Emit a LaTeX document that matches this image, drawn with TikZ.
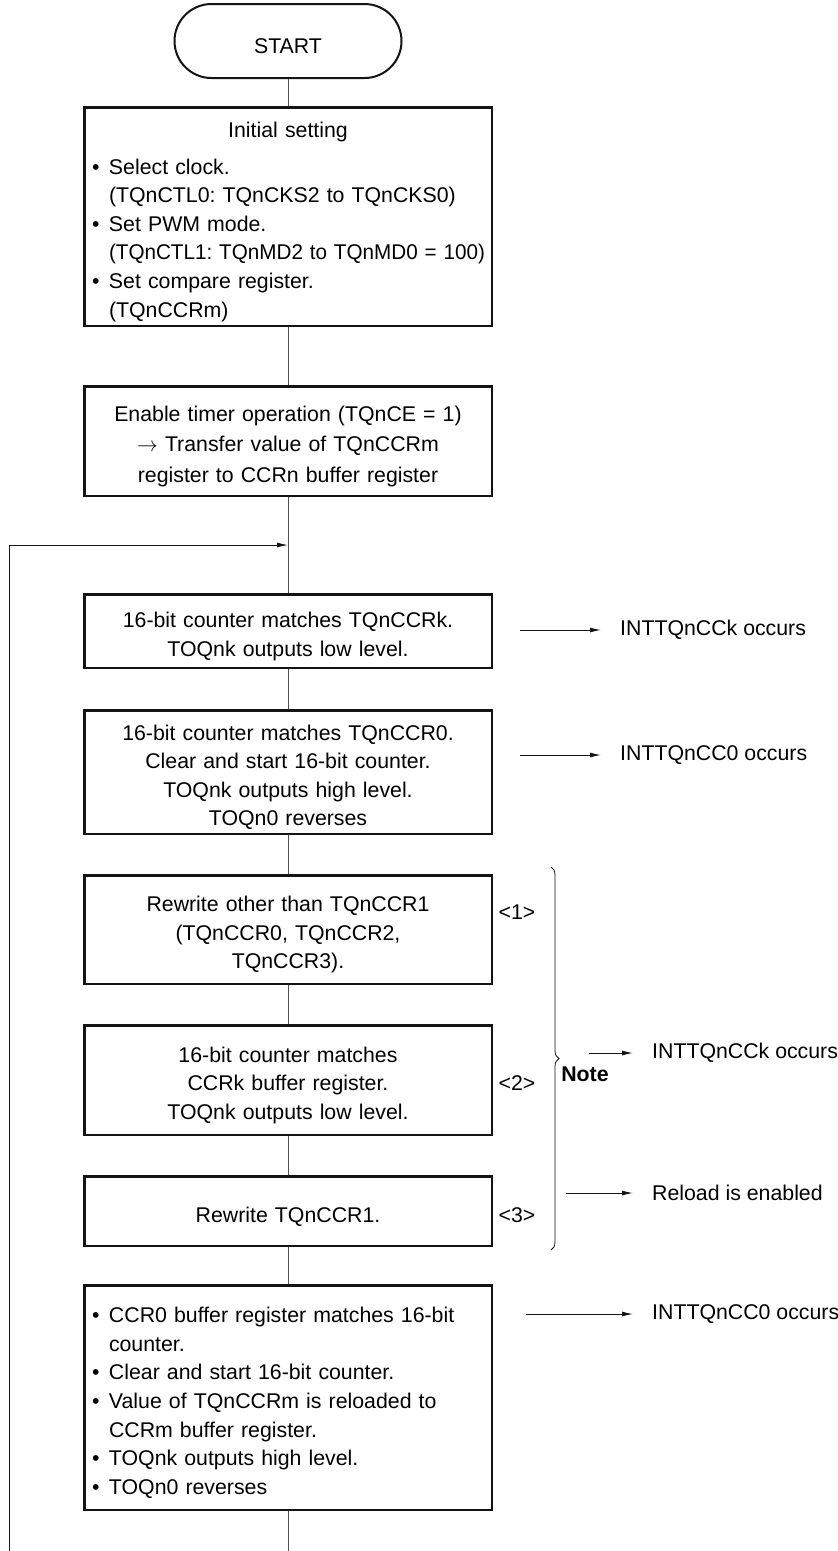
\documentclass[tikz,border=0pt]{standalone}
\usepackage{fontspec}
\setmainfont{Liberation Sans}
\usetikzlibrary{arrows.meta,positioning,calc,decorations.pathreplacing}
\definecolor{ink}{RGB}{20,20,20}
\definecolor{wire}{RGB}{85,85,85}
\newcommand{\fsz}{\fontsize{21.3pt}{28.6pt}\selectfont\frenchspacing}
\newcommand{\bul}{\hspace*{4pt}\makebox[17pt][l]{\textbullet}}
\newcommand{\ind}{\hspace*{21pt}}
\newcommand{\topgap}{\rule{0pt}{26pt}}
\tikzset{
  term/.style={draw=ink,line width=2pt,rounded corners=37pt,minimum width=227pt,minimum height=74pt,font=\fsz,execute at begin node=\topgap},
  proc/.style={draw=ink,line width=2.5pt,minimum width=407.5pt,text width=400pt,inner xsep=3pt,inner ysep=1pt,align=center,font=\fsz,execute at begin node=\topgap},
  link/.style={draw=wire,line width=1pt},
  arr/.style={-{Latex[length=11pt,width=5pt]},draw=ink,line width=1pt},
  side/.style={font=\fsz,anchor=west,inner xsep=19pt,inner ysep=0pt},
  tag/.style={font=\fsz,inner sep=0pt},
}

\begin{document}
\begin{tikzpicture}[x=1pt,y=-1pt]
  \useasboundingbox (0,0) rectangle (838,1551);
  % main column
  \node[term] (start) at (288,41) {START};
  \node[proc,minimum height=218.5pt,align=left,below=27pt of start] (init)
    {\makebox[\linewidth][c]{Initial setting}\\[8pt]
     \bul Select clock.\\\ind (TQnCTL0: TQnCKS2 to TQnCKS0)\\
     \bul Set PWM mode.\\\ind \scalebox{0.97}[1]{(TQnCTL1: TQnMD2 to TQnMD0 = 100)}\\
     \bul Set compare register.\\\ind (TQnCCRm)};
  \node[proc,minimum height=109.5pt,below=58pt of init,font=\fontsize{21.3pt}{30.5pt}\selectfont] (enable)
    {Enable timer operation (TQnCE = 1)\\$\rightarrow$ Transfer value of TQnCCRm\\register to CCRn buffer register};
  \node[proc,minimum height=73.5pt,below=96pt of enable] (matchk)
    {16-bit counter matches TQnCCRk.\\TOQnk outputs low level.};
  \node[proc,minimum height=123.5pt,below=40pt of matchk] (matchz)
    {16-bit counter matches TQnCCR0.\\Clear and start 16-bit counter.\\TOQnk outputs high level.\\TOQn0 reverses};
  \node[proc,minimum height=108.5pt,below=39pt of matchz] (rewother)
    {Rewrite other than TQnCCR1\\(TQnCCR0, TQnCCR2,\\TQnCCR3).};
  \node[proc,minimum height=109.5pt,below=39pt of rewother] (bufk)
    {16-bit counter matches\\CCRk buffer register.\\TOQnk outputs low level.};
  \node[proc,minimum height=69.5pt,below=39pt of bufk] (rewone) {Rewrite TQnCCR1.};
  \node[proc,minimum height=224.5pt,align=left,below=37pt of rewone] (reload)
    {\bul CCR0 buffer register matches 16-bit\\\ind counter.\\
     \bul Clear and start 16-bit counter.\\
     \bul Value of TQnCCRm is reloaded to\\\ind CCRm buffer register.\\
     \bul TOQnk outputs high level.\\
     \bul TOQn0 reverses};

  \draw[link] (start) -- (init);
  \draw[link] (init) -- (enable);
  \draw[link] (enable) -- (matchk);
  \draw[link] (matchk) -- (matchz);
  \draw[link] (matchz) -- (rewother);
  \draw[link] (rewother) -- (bufk);
  \draw[link] (bufk) -- (rewone);
  \draw[link] (rewone) -- (reload);

  % loop back
  \coordinate (join) at ($(enable.south)!0.5!(matchk.north)$);
  \coordinate (turn) at (288,1580);
  \coordinate (back) at (9,1580);
  \draw[link] (reload) -- (turn) -- (back);
  \draw[arr] (back) |- (join);

  % step tags and brace
  \node[tag] (tagone) at (517,912) {<1>};
  \node[tag] (tagtwo) at (517,1083) {<2>};
  \node[tag] (tagthree) at (517,1215) {<3>};
  \draw[ink,line width=0.8pt,decorate,decoration={brace,amplitude=8pt}] (551,867) -- (551,1250);
  \node[tag,font=\fsz\bfseries] (note) at (585,1074) {Note};

  % interrupts
  \node[side] (evk) at (601,630) {INTTQnCCk occurs};
  \node[side] (evz) at (601,755) {INTTQnCC0 occurs};
  \node[side] (evkb) at (633,1053) {INTTQnCCk occurs};
  \node[side] (evrl) at (633,1193) {Reload is enabled};
  \node[side] (evzb) at (633,1314) {INTTQnCC0 occurs};
  \coordinate (fk) at (520,630);
  \coordinate (fz) at (520,755);
  \coordinate (fkb) at (589,1053);
  \coordinate (frl) at (566,1193);
  \coordinate (fzb) at (526,1314);
  \draw[arr] (fk) -- (evk);
  \draw[arr] (fz) -- (evz);
  \draw[arr] (fkb) -- (evkb);
  \draw[arr] (frl) -- (evrl);
  \draw[arr] (fzb) -- (evzb);
\end{tikzpicture}
\end{document}
